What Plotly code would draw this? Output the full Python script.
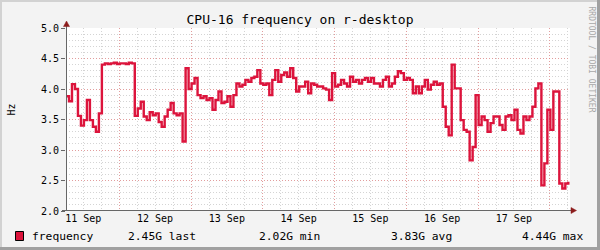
import plotly.graph_objects as go
import pandas as pd

# ---------------- data ----------------
chart_title = "CPU-16 frequency on r-desktop"
series_name = "frequency"
start_time = "2024-09-11 06:10"
end_time = "2024-09-18 06:44"
# hourly CPU frequency samples (GHz)
freq_ghz = [
    3.88, 3.80, 4.08, 4.00, 3.56, 3.40, 3.49, 3.82, 3.49, 3.38,
    3.30, 3.60, 4.40, 4.42, 4.41, 4.42, 4.43, 4.41, 4.42, 4.42,
    4.41, 4.43, 4.42, 3.56, 3.68, 3.79, 3.55, 3.49, 3.62, 3.57,
    3.60, 3.46, 3.38, 3.55, 3.66, 3.77, 3.60, 3.57, 3.60, 3.14,
    4.34, 4.00, 4.09, 4.18, 3.90, 3.85, 3.88, 3.82, 3.85, 3.66,
    3.82, 3.96, 3.77, 3.79, 3.88, 3.71, 3.90, 4.09, 4.04, 4.07,
    4.15, 4.12, 4.18, 4.20, 4.31, 4.09, 4.07, 4.09, 3.90, 4.15,
    4.31, 4.12, 4.23, 4.27, 4.20, 4.34, 4.18, 3.96, 4.04, 4.04,
    4.12, 3.93, 4.09, 4.07, 4.04, 4.04, 4.01, 3.99, 3.82, 4.26,
    4.04, 4.07, 4.15, 4.09, 4.04, 4.20, 4.12, 4.15, 4.09, 4.15,
    4.18, 4.12, 4.18, 4.09, 4.09, 4.04, 4.15, 4.20, 4.04, 4.09,
    4.20, 4.29, 4.26, 4.15, 4.18, 4.15, 3.93, 4.04, 3.93, 4.04,
    4.15, 3.99, 4.07, 4.12, 4.07, 4.09, 3.71, 3.38, 3.24, 4.40,
    4.01, 4.01, 3.49, 3.33, 3.30, 2.83, 3.05, 3.90, 3.41, 3.55,
    3.49, 3.30, 3.44, 3.55, 3.55, 3.41, 3.33, 3.55, 3.57, 3.49,
    3.66, 3.33, 3.27, 3.55, 3.49, 3.55, 3.71, 4.01, 4.09, 2.42,
    2.78, 3.66, 3.33, 3.96, 3.96, 2.45, 2.37, 2.45, 2.48,
]
day_ticks = ["2024-09-12", "2024-09-13", "2024-09-14", "2024-09-15",
             "2024-09-16", "2024-09-17", "2024-09-18"]
day_labels = ["11 Sep", "12 Sep", "13 Sep", "14 Sep", "15 Sep", "16 Sep", "17 Sep"]
y_ticks = [2.0, 2.5, 3.0, 3.5, 4.0, 4.5, 5.0]
stat_labels = ["2.45G last", "2.02G min", "3.83G avg", "4.44G max"]
y_unit = "Hz"
watermark = "RRDTOOL / TOBI OETIKER"

times = pd.date_range(start_time, periods=len(freq_ghz), freq="h")

# ---------------- layout helpers ----------------
FW, FH = 600, 250
L, T, W, H = 66, 28, 504, 183
MONO = "DejaVu Sans Mono"
LINE_COLOR = "#DC143C"


def fx(p):
    return (p - L) / W


def fy(p):
    return (T + H - p) / H


fig = go.Figure()
fig.add_trace(go.Scatter(
    x=times, y=freq_ghz, mode="lines", line=dict(color=LINE_COLOR, width=2.4, shape="hv"),
    showlegend=False, hoverinfo="skip",
))

major_grid = "rgba(235,120,120,0.6)"
minor_grid = "#d4d4d4"
dots = "1px,2px"

fig.update_layout(
    width=FW, height=FH,
    margin=dict(l=L, r=FW - L - W, t=T, b=FH - T - H, pad=0),
    paper_bgcolor="#f3f3f3",
    plot_bgcolor="#ffffff",
    font=dict(family=MONO, size=10, color="#000000"),
    title=dict(text=chart_title, x=0.5, xref="container", xanchor="center",
               y=1 - 19 / FH, yref="container", yanchor="middle",
               font=dict(family=MONO, size=13, color="#000000")),
    xaxis=dict(
        type="date", range=[start_time, end_time],
        tickmode="array", tickvals=day_ticks, ticktext=day_labels,
        ticklabelshift=-36, ticks="", showline=False, zeroline=False,
        showgrid=True, gridcolor=major_grid, griddash=dots, gridwidth=1,
        tickfont=dict(family=MONO, size=10, color="#000000"),
        minor=dict(dtick=6 * 3600 * 1000, tick0="2024-09-11 00:00", showgrid=True,
                   gridcolor=minor_grid, griddash=dots, gridwidth=1),
        fixedrange=True,
    ),
    yaxis=dict(
        range=[2.0, 5.0], tickmode="array", tickvals=y_ticks,
        tickformat=".1f", ticksuffix=" G",
        ticks="outside", ticklen=4, tickcolor="#666666",
        showline=False, zeroline=False,
        showgrid=True, gridcolor=major_grid, griddash=dots, gridwidth=1,
        tickfont=dict(family=MONO, size=10, color="#000000"),
        minor=dict(dtick=0.1, tick0=2.0, showgrid=True, gridcolor=minor_grid,
                   griddash=dots, gridwidth=1),
        fixedrange=True,
    ),
)

shapes = []
axis_col = "#666666"
arrow_col = "#8c1c1c"
# axis lines
shapes.append(dict(type="line", xref="paper", yref="paper",
                   x0=fx(66.5), x1=fx(66.5), y0=fy(211), y1=fy(25),
                   line=dict(color=axis_col, width=1)))
shapes.append(dict(type="line", xref="paper", yref="paper",
                   x0=fx(62), x1=fx(572), y0=fy(210.5), y1=fy(210.5),
                   line=dict(color=axis_col, width=1)))
# arrows
shapes.append(dict(type="path", xref="paper", yref="paper",
                   path=f"M {fx(63.5)},{fy(26.5)} L {fx(69.5)},{fy(26.5)} L {fx(66.5)},{fy(21)} Z",
                   fillcolor=arrow_col, line=dict(color=arrow_col, width=0.5)))
shapes.append(dict(type="path", xref="paper", yref="paper",
                   path=f"M {fx(571)},{fy(207.5)} L {fx(571)},{fy(213.5)} L {fx(576.5)},{fy(210.5)} Z",
                   fillcolor=arrow_col, line=dict(color=arrow_col, width=0.5)))
# image border (3D-ish frame)
light, dark = "#d2d2d2", "#a0a0a0"
for (x0, y0, x1, y1, c) in [(0, 0, FW, 2, light), (0, 0, 2, FH, light),
                            (FW - 3, 0, FW, FH, dark), (0, FH - 3, FW, FH, dark)]:
    shapes.append(dict(type="rect", xref="paper", yref="paper",
                       x0=fx(x0), x1=fx(x1), y0=fy(y0), y1=fy(y1),
                       fillcolor=c, line=dict(width=0)))
# legend swatch
shapes.append(dict(type="rect", xref="paper", yref="paper",
                   x0=fx(15.5), x1=fx(23.5), y0=fy(231.5), y1=fy(240.5),
                   fillcolor=LINE_COLOR, line=dict(color="#000000", width=1)))
fig.update_layout(shapes=shapes)

ann = []
ann.append(dict(text=y_unit, xref="paper", yref="paper", x=fx(10.5), y=fy(110),
                xanchor="center", yanchor="middle", textangle=-90, showarrow=False,
                font=dict(family=MONO, size=10, color="#000000")))
ann.append(dict(text=watermark, xref="paper", yref="paper", x=fx(590.5), y=fy(59),
                xanchor="center", yanchor="middle", textangle=90, showarrow=False,
                font=dict(family=MONO, size=8, color="#a8a8a8")))
legend_font = dict(family=MONO, size=11.3, color="#000000")
ann.append(dict(text=series_name, xref="paper", yref="paper", x=fx(29.5), y=fy(236),
                xanchor="left", yanchor="middle", showarrow=False, font=legend_font))
for txt, px in zip(stat_labels, [126, 257, 389, 520]):
    ann.append(dict(text=txt, xref="paper", yref="paper", x=fx(px), y=fy(236),
                    xanchor="left", yanchor="middle", showarrow=False, font=legend_font))
fig.update_layout(annotations=ann)

fig.write_html("out.html")
